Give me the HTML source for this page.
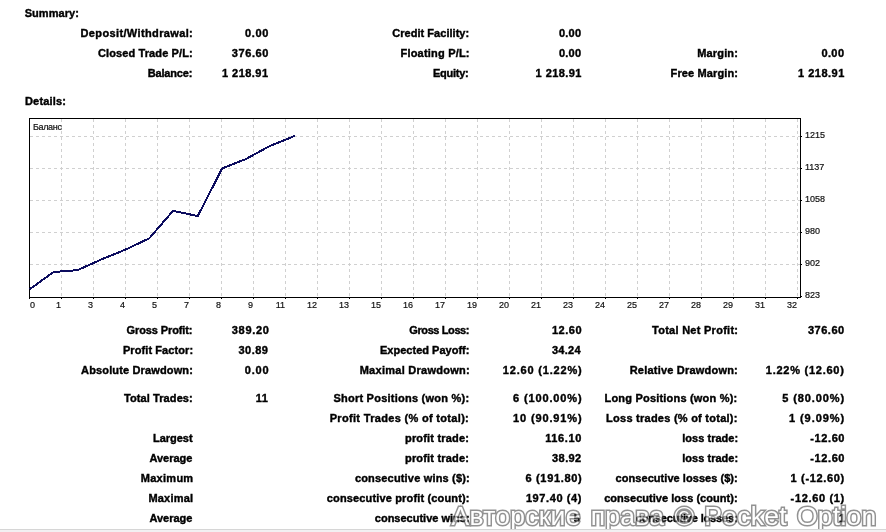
<!DOCTYPE html>
<html><head><meta charset="utf-8"><style>
html,body{margin:0;padding:0;background:#fff;}
body{width:886px;height:532px;position:relative;overflow:hidden;}
.b{position:absolute;font:bold 11px/13px "Liberation Sans",sans-serif;color:#000;white-space:pre;-webkit-text-stroke:0.4px #000;}
.s{position:absolute;font:9px/11px "Liberation Sans",sans-serif;color:#111;white-space:pre;-webkit-text-stroke:0.2px #111;}
.r{text-align:right;}
.wm{position:absolute;left:451.5px;top:499.5px;font:26.5px/32px "Liberation Sans",sans-serif;color:#fff;-webkit-text-stroke:3px #4a4a4a;paint-order:stroke fill;white-space:pre;letter-spacing:0.25px;word-spacing:2.5px;opacity:0.6;}
.bl{position:absolute;left:0;top:529px;width:886px;height:1px;background:#d6d6d6;}
.bl2{position:absolute;left:0;top:530px;width:886px;height:2px;background:#f2f0f2;}
</style></head><body><div id="w" style="position:absolute;left:0;top:0;width:886px;height:532px;will-change:transform;">
<svg width="886" height="532" style="position:absolute;left:0;top:0"><path d="M61.5 119V297 M93.5 119V297 M125.5 119V297 M157.5 119V297 M189.5 119V297 M221.5 119V297 M253.5 119V297 M285.5 119V297 M317.5 119V297 M349.5 119V297 M381.5 119V297 M413.5 119V297 M445.5 119V297 M477.5 119V297 M509.5 119V297 M541.5 119V297 M573.5 119V297 M605.5 119V297 M637.5 119V297 M669.5 119V297 M701.5 119V297 M733.5 119V297 M765.5 119V297 M797.5 119V297" stroke="#d0d0d0" stroke-width="1" stroke-dasharray="3 3" fill="none"/><path d="M30 136.5H800 M30 168.5H800 M30 200.5H800 M30 232.5H800 M30 264.5H800" stroke="#d0d0d0" stroke-width="1" stroke-dasharray="3 3" fill="none"/><rect x="29.5" y="118.5" width="771" height="179" fill="none" stroke="#000" stroke-width="1"/><path d="M801 136.5H802 M801 168.5H802 M801 200.5H802 M801 232.5H802 M801 264.5H802 M801 296.5H802 M29.5 298V299 M61.5 298V299 M93.5 298V299 M125.5 298V299 M157.5 298V299 M189.5 298V299 M221.5 298V299 M253.5 298V299 M285.5 298V299 M317.5 298V299 M349.5 298V299 M381.5 298V299 M413.5 298V299 M445.5 298V299 M477.5 298V299 M509.5 298V299 M541.5 298V299 M573.5 298V299 M605.5 298V299 M637.5 298V299 M669.5 298V299 M701.5 298V299 M733.5 298V299 M765.5 298V299 M797.5 298V299" stroke="#000" stroke-width="1" fill="none"/><path d="M29.5 289.4 L53.6 272.0 L77.3 270.2 L101.5 259.4 L125.5 249.6 L149.2 238.4 L173.0 210.9 L197.8 216.0 L222.2 168.4 L245.5 159.2 L269.5 146.2 L294.8 135.9" stroke="#0c0c5e" stroke-width="2" fill="none" stroke-linejoin="round" shape-rendering="crispEdges"/></svg>
<div class="b" style="top:7px;left:24.7px;letter-spacing:0.06px">Summary:</div><div class="b" style="top:95px;left:25.0px;letter-spacing:0.17px">Details:</div><div class="b" style="top:27px;left:80.5px;letter-spacing:0.37px">Deposit/Withdrawal:</div><div class="b" style="top:47px;left:97.9px;letter-spacing:0.12px">Closed Trade P/L:</div><div class="b" style="top:67px;left:147.7px;letter-spacing:-0.17px">Balance:</div><div class="b" style="top:27px;left:245.1px;letter-spacing:0.60px">0.00</div><div class="b" style="top:47px;left:231.8px;letter-spacing:0.60px">376.60</div><div class="b" style="top:67px;left:222.0px;letter-spacing:0.46px">1 218.91</div><div class="b" style="top:27px;left:392.2px;letter-spacing:0.04px">Credit Facility:</div><div class="b" style="top:47px;left:400.5px;letter-spacing:0.20px">Floating P/L:</div><div class="b" style="top:67px;left:433.0px;letter-spacing:-0.27px">Equity:</div><div class="b" style="top:27px;left:558.9px;letter-spacing:0.27px">0.00</div><div class="b" style="top:47px;left:558.9px;letter-spacing:0.27px">0.00</div><div class="b" style="top:67px;left:535.6px;letter-spacing:0.43px">1 218.91</div><div class="b" style="top:47px;left:697.2px;letter-spacing:0.17px">Margin:</div><div class="b" style="top:67px;left:670.6px;letter-spacing:0.13px">Free Margin:</div><div class="b" style="top:47px;left:821.4px;letter-spacing:0.40px">0.00</div><div class="b" style="top:67px;left:798.1px;letter-spacing:0.48px">1 218.91</div><div class="b" style="top:324px;left:126.5px;letter-spacing:-0.10px">Gross Profit:</div><div class="b" style="top:344px;left:122.9px;letter-spacing:0.09px">Profit Factor:</div><div class="b" style="top:364px;left:81.1px;letter-spacing:0.14px">Absolute Drawdown:</div><div class="b" style="top:392px;left:123.9px;letter-spacing:0.10px">Total Trades:</div><div class="b" style="top:432px;left:153.0px;letter-spacing:-0.03px">Largest</div><div class="b" style="top:452px;left:149.5px;letter-spacing:-0.03px">Average</div><div class="b" style="top:472px;left:140.8px;letter-spacing:0.27px">Maximum</div><div class="b" style="top:492px;left:148.4px;letter-spacing:0.20px">Maximal</div><div class="b" style="top:512px;left:149.5px;letter-spacing:-0.03px">Average</div><div class="b" style="top:324px;left:231.8px;letter-spacing:0.68px">389.20</div><div class="b" style="top:344px;left:238.4px;letter-spacing:0.50px">30.89</div><div class="b" style="top:364px;left:244.8px;letter-spacing:0.80px">0.00</div><div class="b" style="top:392px;left:255.8px;letter-spacing:0.40px">11</div><div class="b" style="top:324px;left:409.3px;letter-spacing:-0.40px">Gross Loss:</div><div class="b" style="top:344px;left:380.0px;letter-spacing:0.01px">Expected Payoff:</div><div class="b" style="top:364px;left:359.7px;letter-spacing:0.27px">Maximal Drawdown:</div><div class="b" style="top:392px;left:333.4px;letter-spacing:0.24px">Short Positions (won %):</div><div class="b" style="top:412px;left:329.7px;letter-spacing:0.32px">Profit Trades (% of total):</div><div class="b" style="top:432px;left:405.0px;letter-spacing:0.18px">profit trade:</div><div class="b" style="top:452px;left:405.0px;letter-spacing:0.18px">profit trade:</div><div class="b" style="top:472px;left:354.9px;letter-spacing:0.18px">consecutive wins ($):</div><div class="b" style="top:492px;left:326.8px;letter-spacing:0.15px">consecutive profit (count):</div><div class="b" style="top:512px;left:374.8px;letter-spacing:0.00px">consecutive wins:</div><div class="b" style="top:324px;left:552.0px;letter-spacing:0.50px">12.60</div><div class="b" style="top:344px;left:552.0px;letter-spacing:0.25px">34.24</div><div class="b" style="top:364px;left:502.8px;letter-spacing:0.82px">12.60 (1.22%)</div><div class="b" style="top:392px;left:513.1px;letter-spacing:0.86px">6 (100.00%)</div><div class="b" style="top:412px;left:513.1px;letter-spacing:0.86px">10 (90.91%)</div><div class="b" style="top:432px;left:545.2px;letter-spacing:0.64px">116.10</div><div class="b" style="top:452px;left:552.1px;letter-spacing:0.40px">38.92</div><div class="b" style="top:472px;left:525.5px;letter-spacing:0.67px">6 (191.80)</div><div class="b" style="top:492px;left:525.9px;letter-spacing:0.60px">197.40 (4)</div><div class="b" style="top:512px;left:573.8px;letter-spacing:0.00px">5</div><div class="b" style="top:324px;left:652.0px;letter-spacing:0.27px">Total Net Profit:</div><div class="b" style="top:364px;left:629.7px;letter-spacing:0.21px">Relative Drawdown:</div><div class="b" style="top:392px;left:604.5px;letter-spacing:0.20px">Long Positions (won %):</div><div class="b" style="top:412px;left:606.1px;letter-spacing:0.25px">Loss trades (% of total):</div><div class="b" style="top:432px;left:682.3px;letter-spacing:0.02px">loss trade:</div><div class="b" style="top:452px;left:682.3px;letter-spacing:0.02px">loss trade:</div><div class="b" style="top:472px;left:615.6px;letter-spacing:0.05px">consecutive losses ($):</div><div class="b" style="top:492px;left:604.2px;letter-spacing:0.03px">consecutive loss (count):</div><div class="b" style="top:512px;left:635.8px;letter-spacing:-0.15px">consecutive losses:</div><div class="b" style="top:324px;left:807.9px;letter-spacing:0.52px">376.60</div><div class="b" style="top:364px;left:765.8px;letter-spacing:0.75px">1.22% (12.60)</div><div class="b" style="top:392px;left:782.3px;letter-spacing:0.89px">5 (80.00%)</div><div class="b" style="top:412px;left:788.9px;letter-spacing:0.95px">1 (9.09%)</div><div class="b" style="top:432px;left:810.3px;letter-spacing:0.60px">-12.60</div><div class="b" style="top:452px;left:810.3px;letter-spacing:0.60px">-12.60</div><div class="b" style="top:472px;left:790.6px;letter-spacing:0.65px">1 (-12.60)</div><div class="b" style="top:492px;left:790.6px;letter-spacing:0.65px">-12.60 (1)</div><div class="b" style="top:512px;left:838.9px;letter-spacing:0.00px">1</div>
<div class="s" style="top:300px;left:30px">0</div><div class="s r" style="top:300px;right:825px">1</div><div class="s r" style="top:300px;right:793px">3</div><div class="s r" style="top:300px;right:761px">4</div><div class="s r" style="top:300px;right:729px">5</div><div class="s r" style="top:300px;right:697px">7</div><div class="s r" style="top:300px;right:665px">8</div><div class="s r" style="top:300px;right:633px">9</div><div class="s r" style="top:300px;right:601px">11</div><div class="s r" style="top:300px;right:569px">12</div><div class="s r" style="top:300px;right:537px">13</div><div class="s r" style="top:300px;right:505px">15</div><div class="s r" style="top:300px;right:473px">16</div><div class="s r" style="top:300px;right:441px">17</div><div class="s r" style="top:300px;right:409px">19</div><div class="s r" style="top:300px;right:377px">20</div><div class="s r" style="top:300px;right:345px">21</div><div class="s r" style="top:300px;right:313px">23</div><div class="s r" style="top:300px;right:281px">24</div><div class="s r" style="top:300px;right:249px">25</div><div class="s r" style="top:300px;right:217px">27</div><div class="s r" style="top:300px;right:185px">28</div><div class="s r" style="top:300px;right:153px">29</div><div class="s r" style="top:300px;right:121px">31</div><div class="s r" style="top:300px;right:89px">32</div><div class="s" style="top:130px;left:805px">1215</div><div class="s" style="top:162px;left:805px">1137</div><div class="s" style="top:194px;left:805px">1058</div><div class="s" style="top:226px;left:805px">980</div><div class="s" style="top:258px;left:805px">902</div><div class="s" style="top:290px;left:805px">823</div><div class="s" style="top:122px;left:33px;letter-spacing:-0.35px">Баланс</div>
<div class="wm">Авторские права © Pocket Option</div>
<div class="bl"></div><div class="bl2"></div>
</div></body></html>
